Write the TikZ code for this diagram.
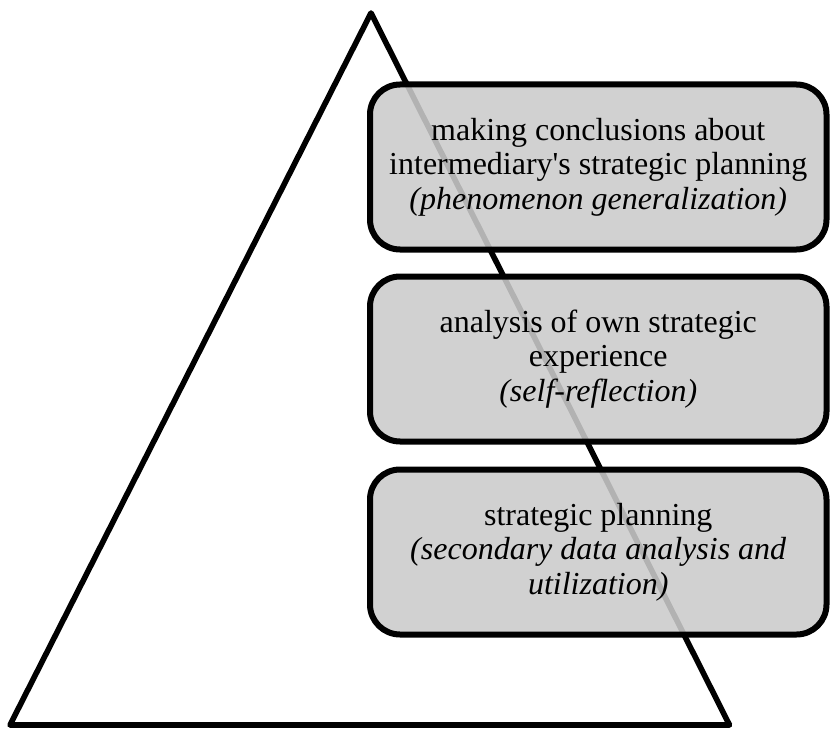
\documentclass[tikz,border=0pt]{standalone}
\usepackage{fontspec}
\setmainfont{Liberation Serif}
\newcommand\straightq{\XeTeXglyph\XeTeXcharglyph"27\relax}
\begin{document}
\begin{tikzpicture}[x=1pt,y=-1pt,
  levelbox/.style={draw=black, line width=6pt, rounded corners=30pt,
    fill={rgb,255:red,203;green,203;blue,203}, fill opacity=0.88, text opacity=1,
    minimum width=456.5pt, minimum height=165pt, inner sep=0pt, align=center,
    font=\fontsize{32}{34.5}\selectfont}]
\useasboundingbox (0,0) rectangle (830,733);
\coordinate (apex) at (371,13);
\coordinate (bl) at (10,725);
\coordinate (br) at (729.5,725);
\draw[line width=5.6pt, line join=round] (apex) -- (bl) -- (br) -- cycle;
\node[levelbox] (top) at (598.25,167) {making conclusions about\\intermediary\straightq s strategic planning\\\textit{(phenomenon generalization)}};
\node[levelbox] (mid) at (598.25,359) {analysis of own strategic\\experience\\\textit{(self-reflection)}};
\node[levelbox] (bot) at (598.25,552) {strategic planning\\\textit{(secondary data analysis and}\\\textit{utilization)}};
\end{tikzpicture}
\end{document}
